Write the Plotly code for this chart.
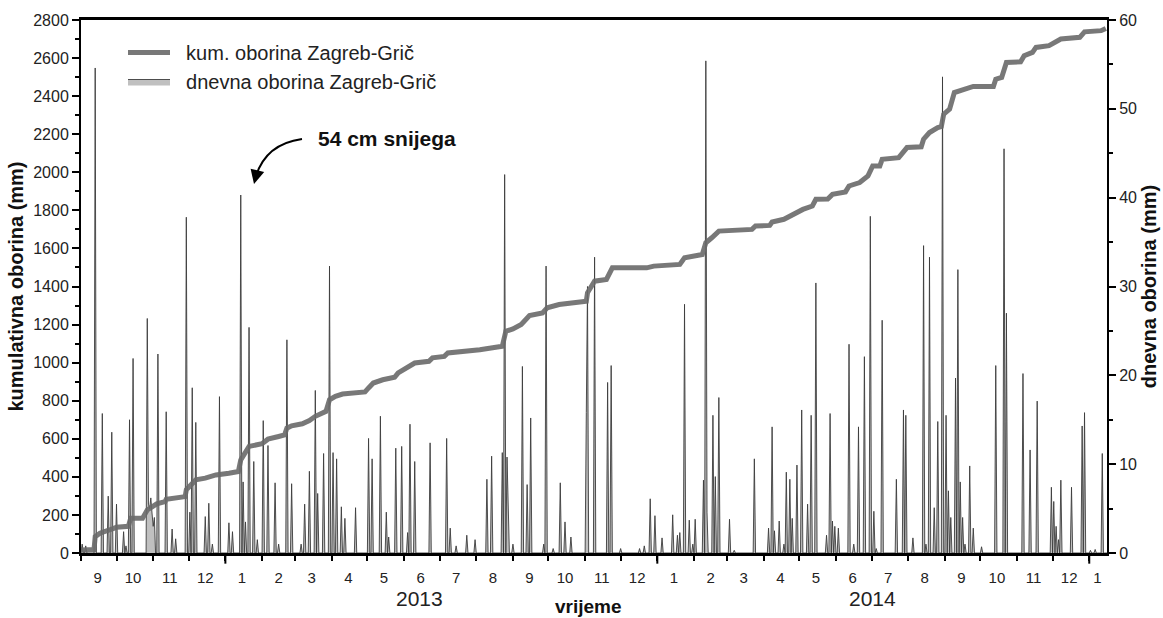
import plotly.graph_objects as go
import pandas as pd

# ---------------- data ----------------
# daily precipitation (mm) on rainy days; all other days are 0
rain_dates = [
    "2012-09-02", "2012-09-05", "2012-09-13", "2012-09-19", "2012-09-24", "2012-09-27",
    "2012-10-01", "2012-10-07", "2012-10-09", "2012-10-12", "2012-10-15", "2012-10-27",
    "2012-10-28", "2012-10-29", "2012-10-30", "2012-10-31", "2012-11-01", "2012-11-02",
    "2012-11-05", "2012-11-12", "2012-11-17",
    "2012-11-20", "2012-11-29", "2012-12-02", "2012-12-04", "2012-12-07", "2012-12-15",
    "2012-12-18", "2012-12-21", "2012-12-27", "2013-01-04", "2013-01-07", "2013-01-14",
    "2013-01-16", "2013-01-18", "2013-01-21", "2013-01-25", "2013-01-28", "2013-02-02",
    "2013-02-06", "2013-02-12", "2013-02-15", "2013-02-22", "2013-02-26", "2013-03-06",
    "2013-03-09", "2013-03-13", "2013-03-18", "2013-03-20", "2013-03-25", "2013-03-30",
    "2013-04-02", "2013-04-05", "2013-04-09", "2013-04-12", "2013-04-21", "2013-05-02",
    "2013-05-05", "2013-05-12", "2013-05-17", "2013-05-19", "2013-05-25", "2013-05-30",
    "2013-06-04", "2013-06-06", "2013-06-10", "2013-06-23", "2013-07-07", "2013-07-10",
    "2013-07-15", "2013-07-24", "2013-07-31", "2013-08-10", "2013-08-14", "2013-08-23",
    "2013-08-25", "2013-08-27", "2013-08-28", "2013-09-01", "2013-09-09", "2013-09-13",
    "2013-09-16", "2013-09-27", "2013-09-29", "2013-10-05", "2013-10-11", "2013-10-15",
    "2013-10-20", "2013-11-02", "2013-11-03", "2013-11-09", "2013-11-20", "2013-11-23",
    "2013-12-01", "2013-12-17", "2013-12-21", "2013-12-26", "2013-12-30", "2014-01-05",
    "2014-01-14", "2014-01-18", "2014-01-20", "2014-01-24", "2014-01-28", "2014-01-31",
    "2014-02-02", "2014-02-09", "2014-02-11", "2014-02-12", "2014-02-17", "2014-02-19",
    "2014-02-22", "2014-03-03", "2014-03-07", "2014-03-24", "2014-04-05", "2014-04-08",
    "2014-04-10", "2014-04-14", "2014-04-18", "2014-04-20", "2014-04-23", "2014-04-25",
    "2014-04-29", "2014-05-03", "2014-05-08", "2014-05-11", "2014-05-15", "2014-05-24",
    "2014-05-27", "2014-05-29", "2014-05-31", "2014-06-03", "2014-06-12", "2014-06-16",
    "2014-06-20", "2014-06-25", "2014-06-30", "2014-07-03", "2014-07-05", "2014-07-10",
    "2014-07-22", "2014-07-28", "2014-07-30", "2014-08-05", "2014-08-14", "2014-08-16",
    "2014-08-19", "2014-08-23", "2014-08-26", "2014-08-30", "2014-09-02", "2014-09-04",
    "2014-09-06", "2014-09-10", "2014-09-12", "2014-09-14", "2014-09-16", "2014-09-18",
    "2014-09-22", "2014-09-25", "2014-10-02", "2014-10-14", "2014-10-21", "2014-10-23",
    "2014-11-06", "2014-11-12", "2014-11-18", "2014-11-30", "2014-12-02", "2014-12-04",
    "2014-12-06", "2014-12-08", "2014-12-17", "2014-12-26", "2014-12-28", "2015-01-02",
    "2015-01-06", "2015-01-12",
]
rain_mm = [
    1.0, 0.8, 54.6, 15.7, 6.4, 13.6,
    5.5, 2.4, 0.8, 15.0, 21.9, 26.4,
    5.5, 5.0, 6.2, 4.5, 3.0, 4.0,
    22.4, 15.9, 2.7,
    1.6, 37.8, 4.6, 18.6, 14.7, 4.1,
    5.6, 1.0, 17.6, 3.4, 2.4, 40.3,
    8.0, 3.5, 25.4, 10.3, 1.5, 14.9,
    12.1, 7.9, 1.0, 24.0, 7.8, 1.0,
    5.5, 9.2, 18.3, 6.7, 11.2, 32.3,
    11.3, 10.6, 5.2, 3.9, 5.1, 12.9,
    10.6, 15.4, 4.6, 1.8, 11.8, 12.0,
    2.3, 14.5, 10.3, 12.4, 12.9, 2.8,
    0.8, 2.0, 1.5, 8.3, 10.9, 11.3,
    42.6, 10.8, 3.0, 1.0, 21.0, 7.7,
    15.2, 1.0, 32.3, 0.5, 7.9, 3.5,
    1.8, 15.8, 30.0, 33.3, 19.2, 21.1,
    0.5, 0.5, 0.8, 6.1, 4.2, 1.7,
    4.3, 2.0, 2.3, 28.0, 3.7, 1.0,
    3.8, 8.2, 55.4, 4.6, 15.5, 8.6,
    17.5, 3.8, 0.3, 10.6, 2.8, 14.2,
    2.5, 3.6, 1.0, 9.1, 8.3, 3.9,
    9.9, 16.1, 5.5, 15.5, 30.4, 2.0,
    15.7, 3.6, 3.0, 2.8, 23.5, 1.0,
    14.2, 22.1, 37.9, 4.7, 0.5, 26.2,
    8.3, 16.1, 15.5, 1.7, 34.6, 1.0,
    33.3, 5.1, 14.8, 53.6, 15.5, 7.0,
    4.0, 19.7, 31.9, 8.0, 4.0, 1.0,
    9.8, 2.8, 0.7, 21.1, 45.5, 27.0,
    20.2, 11.6, 17.1, 7.4, 5.8, 3.0,
    1.5, 8.2, 7.4, 14.3, 15.8, 0.3,
    0.4, 11.2,
]

# cumulative precipitation (mm), break points of the curve
cum_dates = [
    "2012-09-01", "2012-09-12", "2012-09-13", "2012-09-17", "2012-09-25", "2012-10-01",
    "2012-10-11", "2012-10-13", "2012-10-23", "2012-10-27", "2012-11-04", "2012-11-11",
    "2012-11-12", "2012-11-28", "2012-11-29", "2012-12-03", "2012-12-07", "2012-12-15",
    "2012-12-24", "2013-01-04", "2013-01-12", "2013-01-14", "2013-01-18", "2013-01-21",
    "2013-02-01", "2013-02-06", "2013-02-15", "2013-02-20", "2013-02-22", "2013-02-26",
    "2013-03-07", "2013-03-13", "2013-03-18", "2013-03-27", "2013-03-30", "2013-04-04",
    "2013-04-10", "2013-04-19", "2013-04-29", "2013-05-02", "2013-05-06", "2013-05-14",
    "2013-05-24", "2013-05-27", "2013-06-04", "2013-06-10", "2013-06-22", "2013-06-25",
    "2013-07-05", "2013-07-08", "2013-08-04", "2013-08-15", "2013-08-23", "2013-08-26",
    "2013-09-01", "2013-09-08", "2013-09-15", "2013-09-26", "2013-09-30", "2013-10-10",
    "2013-11-02", "2013-11-03", "2013-11-09", "2013-11-19", "2013-11-24", "2013-12-23",
    "2013-12-29", "2014-01-20", "2014-01-24", "2014-02-08", "2014-02-11", "2014-02-16",
    "2014-02-22", "2014-03-22", "2014-03-25", "2014-04-06", "2014-04-08", "2014-04-18",
    "2014-04-25", "2014-05-04", "2014-05-12", "2014-05-15", "2014-05-25", "2014-05-29",
    "2014-06-09", "2014-06-12", "2014-06-21", "2014-06-28", "2014-07-02", "2014-07-08",
    "2014-07-10", "2014-07-24", "2014-07-31", "2014-08-12", "2014-08-14", "2014-08-19",
    "2014-08-26", "2014-08-29", "2014-08-31", "2014-09-05", "2014-09-09", "2014-09-18",
    "2014-09-25", "2014-10-12", "2014-10-14", "2014-10-19", "2014-10-23", "2014-11-04",
    "2014-11-07", "2014-11-14", "2014-11-17", "2014-11-28", "2014-12-08", "2014-12-24",
    "2014-12-28", "2015-01-11", "2015-01-15",
]
cum_mm = [
    16, 18, 86, 104, 121, 135,
    140, 183, 183, 226, 258, 270,
    282, 296, 332, 358, 384, 393,
    410, 419, 428, 489, 525, 560,
    574, 598, 612, 620, 656, 668,
    679, 696, 718, 744, 805, 823,
    835, 840, 846, 867, 893, 910,
    923, 946, 972, 998, 1007, 1025,
    1033, 1051, 1068, 1077, 1086, 1165,
    1177, 1200, 1247, 1261, 1288, 1305,
    1323, 1367, 1428, 1437, 1498, 1498,
    1507, 1516, 1551, 1568, 1630, 1656,
    1691, 1700, 1718, 1721, 1739, 1753,
    1779, 1805, 1823, 1858, 1860, 1884,
    1897, 1928, 1946, 1981, 2033, 2033,
    2068, 2077, 2130, 2134, 2174, 2209,
    2235, 2240, 2305, 2332, 2419, 2435,
    2451, 2451, 2489, 2498, 2577, 2580,
    2612, 2630, 2656, 2665, 2700, 2709,
    2738, 2744, 2756,
]

month_labels = ["9", "10", "11", "12",
                "1", "2", "3", "4", "5", "6", "7", "8", "9", "10", "11", "12",
                "1", "2", "3", "4", "5", "6", "7", "8", "9", "10", "11", "12",
                "1"]
year_labels = ["2013", "2014"]
year_label_dates = ["2013-06-14", "2014-07-02"]

START, END = "2012-09-01", "2015-01-16"

# ---------------- build series ----------------
days = pd.date_range(START, END, freq="D")
daily = pd.Series(0.0, index=days)
daily.loc[pd.to_datetime(rain_dates)] = rain_mm

month_starts = pd.date_range(START, "2015-01-01", freq="MS")
month_mids = [d + pd.Timedelta(days=14) for d in month_starts]
month_mids[-1] = pd.Timestamp("2015-01-08")

FONT = "Liberation Sans, Arial, sans-serif"
NB = "\u00a0\u00a0"

fig = go.Figure()
fig.add_trace(go.Scatter(
    x=days, y=daily.values, mode="lines", name=NB + "dnevna oborina Zagreb-Grič",
    line=dict(color="#3c3c3c", width=0.9), fill="tozeroy", fillcolor="#c0c0c0",
    yaxis="y", legendrank=2,
))
fig.add_trace(go.Scatter(
    x=pd.to_datetime(cum_dates), y=cum_mm, mode="lines", name=NB + "kum. oborina Zagreb-Grič",
    line=dict(color="rgba(105,105,105,0.9)", width=5), yaxis="y2", legendrank=1,
))

def px(xp):
    return (xp - 81) / 1026.0

def py(yp):
    return (553 - yp) / 533.0

shapes = []
for d in ["2013-01-01", "2014-01-01", "2015-01-01"]:
    shapes.append(dict(type="line", xref="x", yref="paper", x0=d, x1=d, y0=0, y1=-0.02,
                       line=dict(color="black", width=2)))
# curved arrow for the annotation
shapes.append(dict(type="path", xref="paper", yref="paper",
                   path=f"M {px(302)},{py(139)} Q {px(266)},{py(144)} {px(256)},{py(176)}",
                   line=dict(color="black", width=2)))

annotations = [
    dict(text="<b>54 cm snijega</b>", x=px(387), y=py(138), xref="paper", yref="paper",
         xanchor="center", yanchor="middle",
         showarrow=False, font=dict(size=21, family=FONT, color="#111")),
    dict(text="", x=px(254), y=py(184), xref="paper", yref="paper", showarrow=True,
         ax=3, ay=-12, arrowhead=2, arrowsize=1.4, arrowwidth=2, arrowcolor="black"),
    dict(text="<b>vrijeme</b>", x=px(588), y=py(606), xref="paper", yref="paper",
         xanchor="center", yanchor="middle",
         showarrow=False, font=dict(size=19, family=FONT, color="#111")),
]
for lbl, d in zip(year_labels, year_label_dates):
    annotations.append(dict(text=lbl, x=d, y=py(598), xref="x", yref="paper",
                            xanchor="center", yanchor="middle",
                            showarrow=False, font=dict(size=21, family=FONT, color="#222")))

fig.update_layout(
    width=1163, height=618,
    margin=dict(l=81, r=56, t=20, b=65, autoexpand=False),
    plot_bgcolor="white", paper_bgcolor="white",
    font=dict(family=FONT, color="#222"),
    showlegend=True,
    legend=dict(x=px(123), y=py(33), xanchor="left", yanchor="top",
                font=dict(size=20, family=FONT, color="#222"), bgcolor="rgba(0,0,0,0)",
                itemwidth=42, tracegroupgap=0),
    xaxis=dict(
        type="date", range=[START, END], showgrid=False, zeroline=False,
        tickvals=month_mids, ticktext=month_labels, ticks="",
        tickfont=dict(size=15, family=FONT, color="#222"), ticklabelstandoff=9,
        showline=True, linecolor="black", linewidth=2.5, mirror=True,
        minor=dict(dtick="M1", tick0=START, ticks="outside", ticklen=5, tickwidth=1.5,
                   tickcolor="black", showgrid=False),
    ),
    yaxis=dict(
        range=[0, 60], side="right", dtick=10, ticks="outside", ticklen=7, tickwidth=1.5,
        tickcolor="black", showgrid=False, zeroline=False,
        showline=True, linecolor="black", linewidth=2,
        tickfont=dict(size=16, family=FONT, color="#222"),
        minor=dict(dtick=5, ticks="outside", ticklen=4, tickwidth=1.5, tickcolor="black"),
        title=dict(text="dnevna oborina (mm)\u00a0\u00a0\u00a0",
                   font=dict(size=20, family=FONT, weight="bold", color="#111"),
                   standoff=6),
    ),
    yaxis2=dict(
        range=[0, 2800], side="left", overlaying="y", dtick=200, ticks="outside", ticklen=7,
        tickwidth=1.5, tickcolor="black", showgrid=False, zeroline=False,
        showline=True, linecolor="black", linewidth=2,
        tickfont=dict(size=16, family=FONT, color="#222"),
        minor=dict(dtick=100, ticks="outside", ticklen=4, tickwidth=1.5, tickcolor="black"),
        title=dict(text="kumulativna oborina (mm)", font=dict(size=20, family=FONT, weight="bold", color="#111"),
                   standoff=4),
    ),
    shapes=shapes,
    annotations=annotations,
)

fig.write_html(
    "out.html",
    config={"displayModeBar": False},
    post_script="document.body.style.margin='0px';document.body.style.overflow='hidden';",
)
